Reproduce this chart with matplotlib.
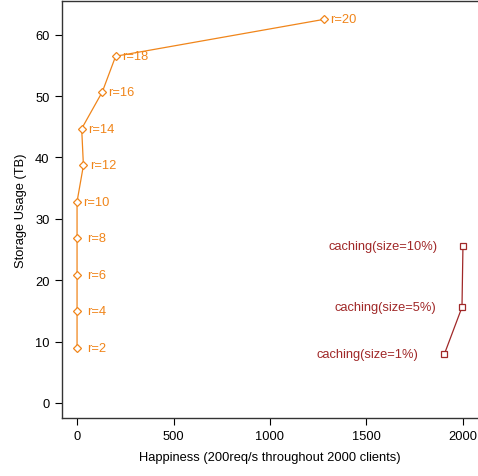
import matplotlib
matplotlib.use("Agg")
import matplotlib.pyplot as plt
from matplotlib import font_manager

# pick the regular (non-narrow) Liberation Sans
fam = "Liberation Sans"
for f in font_manager.findSystemFonts():
    if f.endswith("LiberationSans-Regular.ttf"):
        font_manager.fontManager.addfont(f)
        fam = font_manager.FontProperties(fname=f).get_name()
        break
plt.rcParams['font.family'] = [fam, 'DejaVu Sans']

# replication factor sweep
r_labels = ["r=2", "r=4", "r=6", "r=8", "r=10", "r=12", "r=14", "r=16", "r=18", "r=20"]
r_happy = [0, 0, 0, 0, 0, 33, 24, 131, 200, 1278]
r_storage = [9.0, 15.0, 20.9, 26.9, 32.8, 38.7, 44.7, 50.7, 56.5, 62.5]

# caching variants
c_labels = ["caching(size=1%)", "caching(size=5%)", "caching(size=10%)"]
c_happy = [1903, 1995, 2000]
c_storage = [7.9, 15.6, 25.5]

orange = "#F0851A"
darkred = "#A02828"
fs = 9.3

fig = plt.figure(figsize=(4.78, 4.77), dpi=100)
ax = fig.add_axes([62 / 478, 1 - 419 / 477, 1 - 62 / 478, 417 / 477])

ax.plot(r_happy, r_storage, color=orange, lw=0.9, marker="D", ms=4.5,
        mfc="white", mec=orange, mew=0.9)
for lab, x, y in zip(r_labels, r_happy, r_storage):
    off = 7.5 if x == 0 and y < 30 else 4.5
    ax.annotate(lab, (x, y), xytext=(off, 0), textcoords="offset points",
                color=orange, fontsize=fs, va="center", ha="left")

ax.plot(c_happy, c_storage, color=darkred, lw=0.9, marker="s", ms=4.5,
        mfc="white", mec=darkred, mew=0.9)
for lab, x, y in zip(c_labels, c_happy, c_storage):
    ax.annotate(lab, (x, y), xytext=(-18.5, 0), textcoords="offset points",
                color=darkred, fontsize=fs, va="center", ha="right")

ax.set_xlim(-78, 2078)
ax.set_ylim(-2.45, 65.5)
ax.set_xticks([0, 500, 1000, 1500, 2000])
ax.set_yticks([0, 10, 20, 30, 40, 50, 60])
ax.tick_params(direction="out", length=5, width=0.8, labelsize=fs, pad=4)
ax.spines["right"].set_visible(False)
for s in ["left", "bottom", "top"]:
    ax.spines[s].set_linewidth(1.0)
    ax.spines[s].set_color("#333333")

ax.set_xlabel("Happiness (200req/s throughout 2000 clients)", fontsize=fs, labelpad=6)
ax.set_ylabel("Storage Usage (TB)", fontsize=fs, labelpad=6)

fig.savefig("out.png", dpi=100)
